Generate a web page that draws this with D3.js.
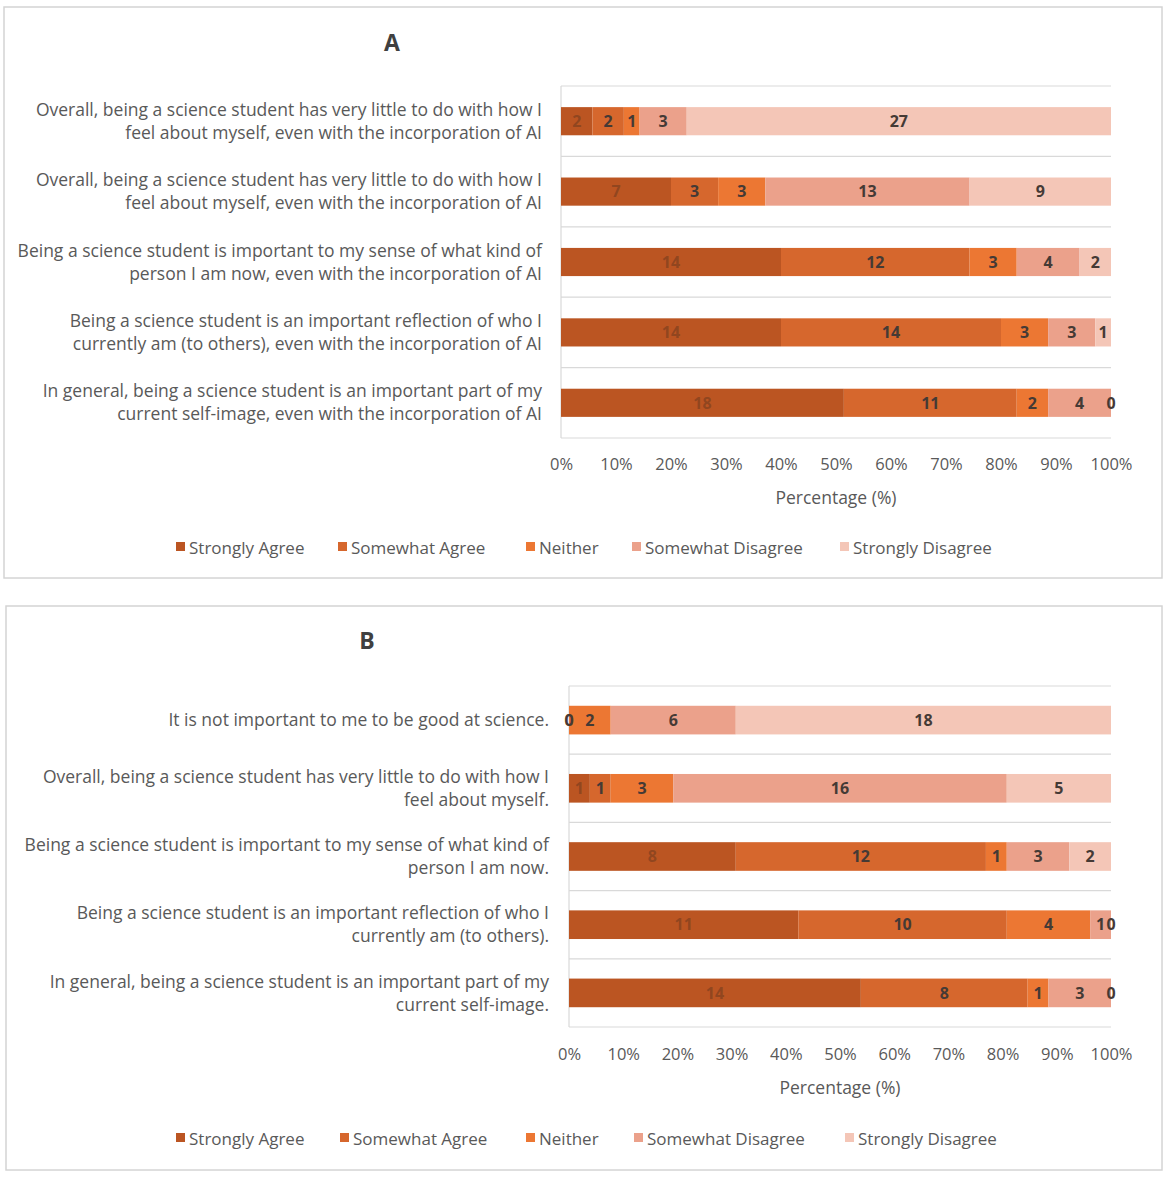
<!DOCTYPE html>
<html>
<head>
<meta charset="utf-8">
<script src="https://cdn.jsdelivr.net/npm/d3@7"></script>
<style>
  body { margin: 0; background: #fff; }
  text { font-family: "Open Sans", Lato, sans-serif; }
</style>
</head>
<body>
<svg id="chart" width="1170" height="1183"></svg>
<script>
// response levels, in stacking order
var levels = ["Strongly Agree", "Somewhat Agree", "Neither", "Somewhat Disagree", "Strongly Disagree"];
var levelColors = ["#bb5522", "#d6672d", "#ec7733", "#eba18b", "#f4c6b7"];

// panel A: statements (top to bottom) and response counts
var questionsA = [
  ["Overall, being a science student has very little to do with how I", "feel about myself, even with the incorporation of AI"],
  ["Overall, being a science student has very little to do with how I", "feel about myself, even with the incorporation of AI"],
  ["Being a science student is important to my sense of what kind of", "person I am now, even with the incorporation of AI"],
  ["Being a science student is an important reflection of who I", "currently am (to others), even with the incorporation of AI"],
  ["In general, being a science student is an important part of my", "current self-image, even with the incorporation of AI"]
];
var countsA = [
  [2, 2, 1, 3, 27],
  [7, 3, 3, 13, 9],
  [14, 12, 3, 4, 2],
  [14, 14, 3, 3, 1],
  [18, 11, 2, 4, 0]
];

// panel B
var questionsB = [
  ["It is not important to me to be good at science."],
  ["Overall, being a science student has very little to do with how I", "feel about myself."],
  ["Being a science student is important to my sense of what kind of", "person I am now."],
  ["Being a science student is an important reflection of who I", "currently am (to others)."],
  ["In general, being a science student is an important part of my", "current self-image."]
];
var countsB = [
  [0, 0, 2, 6, 18],
  [1, 1, 3, 16, 5],
  [8, 12, 1, 3, 2],
  [11, 10, 4, 1, 0],
  [14, 8, 1, 3, 0]
];

var tickValues = [0, 10, 20, 30, 40, 50, 60, 70, 80, 90, 100];

var svg = d3.select('#chart');

function drawPanel(cfg) {
  // outer frame
  svg.append('rect')
      .attr('x', cfg.box[0]).attr('y', cfg.box[1])
      .attr('width', cfg.box[2]).attr('height', cfg.box[3])
      .attr('fill', '#fff').attr('stroke', '#d4d4d4').attr('stroke-width', 1.5);

  svg.append('text')
      .attr('x', cfg.titleX).attr('y', cfg.titleY)
      .attr('text-anchor', 'middle')
      .attr('font-size', 23).attr('font-weight', 'bold').attr('fill', '#404040')
      .text(cfg.title);

  var x = d3.scaleLinear().domain([0, 100]).range([cfg.x0, cfg.x1]);
  var y = d3.scaleBand().domain(d3.range(cfg.counts.length))
      .range([cfg.top, cfg.bottom]).paddingInner(cfg.pad).paddingOuter(cfg.pad / 2);

  // turn counts into percentage rows
  var rows = cfg.counts.map(function (c) {
    var total = d3.sum(c), row = {};
    levels.forEach(function (l, i) { row[l] = c[i] / total * 100; });
    return row;
  });
  var series = d3.stack().keys(levels)(rows);

  var g = svg.append('g');

  // horizontal band boundaries
  var bounds = d3.range(cfg.counts.length + 1).map(function (i) {
    return cfg.top + i * (cfg.bottom - cfg.top) / cfg.counts.length;
  });
  g.selectAll('.grid').data(bounds).enter().append('line')
      .attr('x1', x(0)).attr('x2', x(100))
      .attr('y1', function (d) { return d; }).attr('y2', function (d) { return d; })
      .attr('stroke', '#d9d9d9').attr('stroke-width', 1.2);
  g.append('line')
      .attr('x1', x(0)).attr('x2', x(0)).attr('y1', cfg.top).attr('y2', cfg.bottom)
      .attr('stroke', '#d9d9d9').attr('stroke-width', 1.2);

  var layer = g.selectAll('.layer').data(series).enter().append('g')
      .attr('fill', function (d, i) { return levelColors[i]; });
  layer.selectAll('rect').data(function (d) { return d; }).enter().append('rect')
      .attr('x', function (d) { return x(d[0]); })
      .attr('width', function (d) { return x(d[1]) - x(d[0]); })
      .attr('y', function (d, i) { return y(i); })
      .attr('height', y.bandwidth());

  // value labels (counts)
  series.forEach(function (s, si) {
    g.selectAll('.lbl' + si).data(s).enter().append('text')
        .attr('x', function (d) { return x((d[0] + d[1]) / 2); })
        .attr('y', function (d, i) { return y(i) + y.bandwidth() / 2; })
        .attr('dy', '0.36em')
        .attr('text-anchor', 'middle')
        .attr('font-size', 16).attr('font-weight', 'bold')
        .attr('fill', si === 0 ? '#86421f' : '#453a35')
        .attr('fill-opacity', si === 0 ? 0.8 : 1)
        .text(function (d, i) { return cfg.counts[i][si]; });
  });

  // category labels
  cfg.questions.forEach(function (q, i) {
    var cy = y(i) + y.bandwidth() / 2;
    var t = g.append('text')
        .attr('x', cfg.labelX).attr('y', cy - (q.length - 1) * 11.5)
        .attr('text-anchor', 'end').attr('font-size', 17.5).attr('fill', '#595959');
    q.forEach(function (line, k) {
      t.append('tspan').attr('x', cfg.labelX).attr('dy', k === 0 ? '0.35em' : 23).text(line);
    });
  });

  // x axis ticks
  var axis = g.append('g').attr('transform', 'translate(0,' + cfg.tickY + ')')
      .call(d3.axisBottom(x).tickValues(tickValues).tickSize(0).tickFormat(function (d) { return d + '%'; }));
  axis.select('.domain').remove();
  axis.selectAll('text').attr('font-size', 16.5).attr('fill', '#595959')
      .attr('font-family', '"Open Sans", sans-serif').attr('dy', 0);

  g.append('text')
      .attr('x', (x(0) + x(100)) / 2).attr('y', cfg.tickY + 37)
      .attr('text-anchor', 'middle').attr('font-size', 17.5).attr('fill', '#595959')
      .text('Percentage (%)');

  // legend
  cfg.legendX.forEach(function (lx, i) {
    g.append('rect').attr('x', lx).attr('y', cfg.legendY - 6).attr('width', 9).attr('height', 9)
        .attr('fill', levelColors[i]);
    g.append('text').attr('x', lx + 13).attr('y', cfg.legendY).attr('dy', '0.35em')
        .attr('font-size', 17).attr('fill', '#595959').text(levels[i]);
  });
}

drawPanel({
  box: [4, 7, 1158, 571], title: 'A', titleX: 392, titleY: 51,
  x0: 561, x1: 1111, top: 86, bottom: 438, pad: 0.6,
  counts: countsA, questions: questionsA, labelX: 542,
  tickY: 467, legendY: 548,
  legendX: [176, 338, 526, 632, 840]
});

drawPanel({
  box: [6, 606, 1156, 564], title: 'B', titleX: 367, titleY: 649,
  x0: 569, x1: 1111, top: 686, bottom: 1027, pad: 0.58,
  counts: countsB, questions: questionsB, labelX: 549,
  tickY: 1057, legendY: 1139,
  legendX: [176, 340, 526, 634, 845]
});
</script>
</body>
</html>
